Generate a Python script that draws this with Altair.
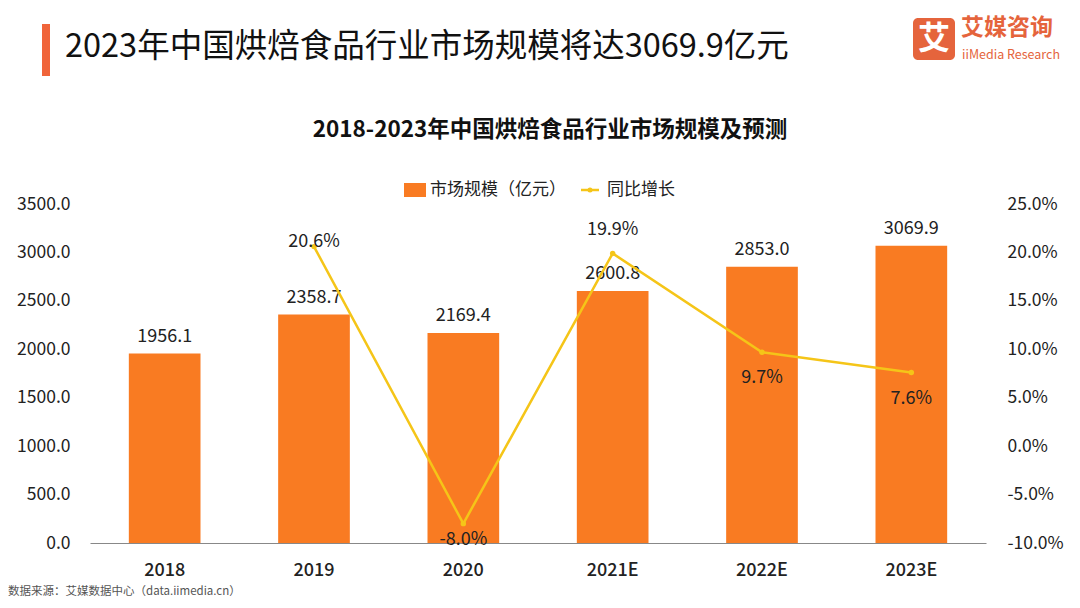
import altair as alt
import pandas as pd

years = ["2018", "2019", "2020", "2021E", "2022E", "2023E"]
market_size = [1956.1, 2358.7, 2169.4, 2600.8, 2853.0, 3069.9]
growth = [None, 20.6, -8.0, 19.9, 9.7, 7.6]

title_text = "2023年中国烘焙食品行业市场规模将达3069.9亿元"
subtitle_text = "2018-2023年中国烘焙食品行业市场规模及预测"
legend_bar = "市场规模（亿元）"
legend_line = "同比增长"
source_text = "数据来源：艾媒数据中心（data.iimedia.cn）"

FONT = "Noto Sans CJK SC"
ORANGE = "#F97B22"
YELLOW = "#F5C518"
DARK = "#222222"

df = pd.DataFrame({"year": years, "size": market_size, "growth": growth})

xenc = alt.X("year:N", sort=years, title=None,
             scale=alt.Scale(paddingInner=0.52, paddingOuter=0.26),
             axis=alt.Axis(labelFont=FONT, labelFontSize=18, labelColor=DARK,
                           labelFontWeight=500, labelPadding=18, ticks=False,
                           domainColor="#888888", domainWidth=1, labelAngle=0))

base = alt.Chart(df)

yleft = alt.Y("size:Q", title=None,
              scale=alt.Scale(domain=[0, 3500], nice=False),
              axis=alt.Axis(values=[0, 500, 1000, 1500, 2000, 2500, 3000, 3500],
                            format=".1f", labelFont=FONT, labelFontSize=17.5,
                            labelColor=DARK, labelPadding=20, ticks=False,
                            domain=False, grid=False))

bars = base.mark_bar(color=ORANGE).encode(x=xenc, y=yleft)
bar_labels = base.mark_text(font=FONT, fontSize=18, color=DARK, dy=-17,
                            baseline="middle").encode(
    x=alt.X("year:N", sort=years), y=alt.Y("size:Q"),
    text=alt.Text("size:Q", format=".1f"))

left = alt.layer(bars, bar_labels)

yright = alt.Y("growth:Q", title=None,
               scale=alt.Scale(domain=[-10, 25], nice=False),
               axis=alt.Axis(orient="right", values=[-10, -5, 0, 5, 10, 15, 20, 25],
                             labelExpr="(datum.value < 0 ? '-' : '') + format(abs(datum.value), '.1f') + '%'",
                             labelFont=FONT, labelFontSize=17.5, labelColor=DARK,
                             labelPadding=21, ticks=False, domain=False, grid=False))

gbase = base.transform_filter("isValid(datum.growth)").transform_calculate(
    glabel="(datum.growth < 0 ? '-' : '') + format(abs(datum.growth), '.1f') + '%'")

line = gbase.mark_line(color=YELLOW, strokeWidth=2.5).encode(
    x=alt.X("year:N", sort=years), y=yright)
pts = gbase.mark_point(color=YELLOW, filled=True, size=30, opacity=1).encode(
    x=alt.X("year:N", sort=years), y=alt.Y("growth:Q"))


def glab(filter_expr, dy):
    return gbase.transform_filter(filter_expr).mark_text(
        font=FONT, fontSize=18, color=DARK, dy=dy, baseline="middle").encode(
        x=alt.X("year:N", sort=years), y=alt.Y("growth:Q"), text="glabel:N")


right = alt.layer(
    line, pts,
    glab("datum.year == '2019'", -5),
    glab("datum.year == '2021E'", -23),
    glab("datum.year == '2020'", 16),
    glab("datum.year == '2022E' || datum.year == '2023E'", 26),
)

one = pd.DataFrame({"k": [0]})
dec = alt.Chart(one)

title_bar = dec.mark_rect(color="#F0643A").encode(
    x=alt.value(-48), x2=alt.value(-40), y=alt.value(-180), y2=alt.value(-128))
title = dec.mark_text(font=FONT, fontSize=32.5, fontWeight="normal", color="#111111",
                      align="left", baseline="middle").encode(
    x=alt.value(-25), y=alt.value(-157), text=alt.value(title_text))
subtitle = dec.mark_text(font=FONT, fontSize=22.5, fontWeight="bold", color="#111111",
                         align="center", baseline="middle").encode(
    x=alt.value(460), y=alt.value(-74), text=alt.value(subtitle_text))

leg_sq = dec.mark_rect(color=ORANGE).encode(
    x=alt.value(314), x2=alt.value(336), y=alt.value(-21), y2=alt.value(-7))
leg_t1 = dec.mark_text(font=FONT, fontSize=17, color=DARK, align="left",
                       baseline="middle").encode(
    x=alt.value(340), y=alt.value(-14), text=alt.value(legend_bar))
leg_ln = dec.mark_rule(color=YELLOW, strokeWidth=2.5).encode(
    x=alt.value(491), x2=alt.value(509), y=alt.value(-14))
leg_pt = dec.mark_point(color=YELLOW, filled=True, size=25, opacity=1).encode(
    x=alt.value(500), y=alt.value(-14))
leg_t2 = dec.mark_text(font=FONT, fontSize=17, color=DARK, align="left",
                       baseline="middle").encode(
    x=alt.value(517), y=alt.value(-14), text=alt.value(legend_line))

logo_box = dec.mark_rect(color="#E5643C", cornerRadius=5).encode(
    x=alt.value(823), x2=alt.value(865), y=alt.value(-186), y2=alt.value(-144))
logo_char = dec.mark_text(font=FONT, fontSize=32, fontWeight="bold", color="white",
                          align="center", baseline="middle").encode(
    x=alt.value(844), y=alt.value(-165), text=alt.value("艾"))
logo_cn = dec.mark_text(font=FONT, fontSize=23, fontWeight="bold", color="#E5643C",
                        align="left", baseline="middle").encode(
    x=alt.value(871), y=alt.value(-176), text=alt.value("艾媒咨询"))
logo_en = dec.mark_text(font=FONT, fontSize=12.5, color="#E5643C",
                        align="left", baseline="middle").encode(
    x=alt.value(872), y=alt.value(-149), text=alt.value("iiMedia Research"))

source = dec.mark_text(font=FONT, fontSize=11.5, color="#555555", align="left",
                       baseline="middle").encode(
    x=alt.value(-82), y=alt.value(388), text=alt.value(source_text))

decor = alt.layer(title_bar, title, subtitle, leg_sq, leg_t1, leg_ln, leg_pt, leg_t2,
                  logo_box, logo_char, logo_cn, logo_en, source)

chart = alt.layer(left, right, decor).resolve_scale(y="independent").properties(
    width=896, height=339,
    background="white",
    autosize=alt.AutoSizeParams(type="none"),
    padding={"left": 82, "top": 196, "right": 86, "bottom": 57},
).configure_view(strokeWidth=0, stroke="transparent")

chart.save("out.html", embed_options={"renderer": "svg", "actions": False})
